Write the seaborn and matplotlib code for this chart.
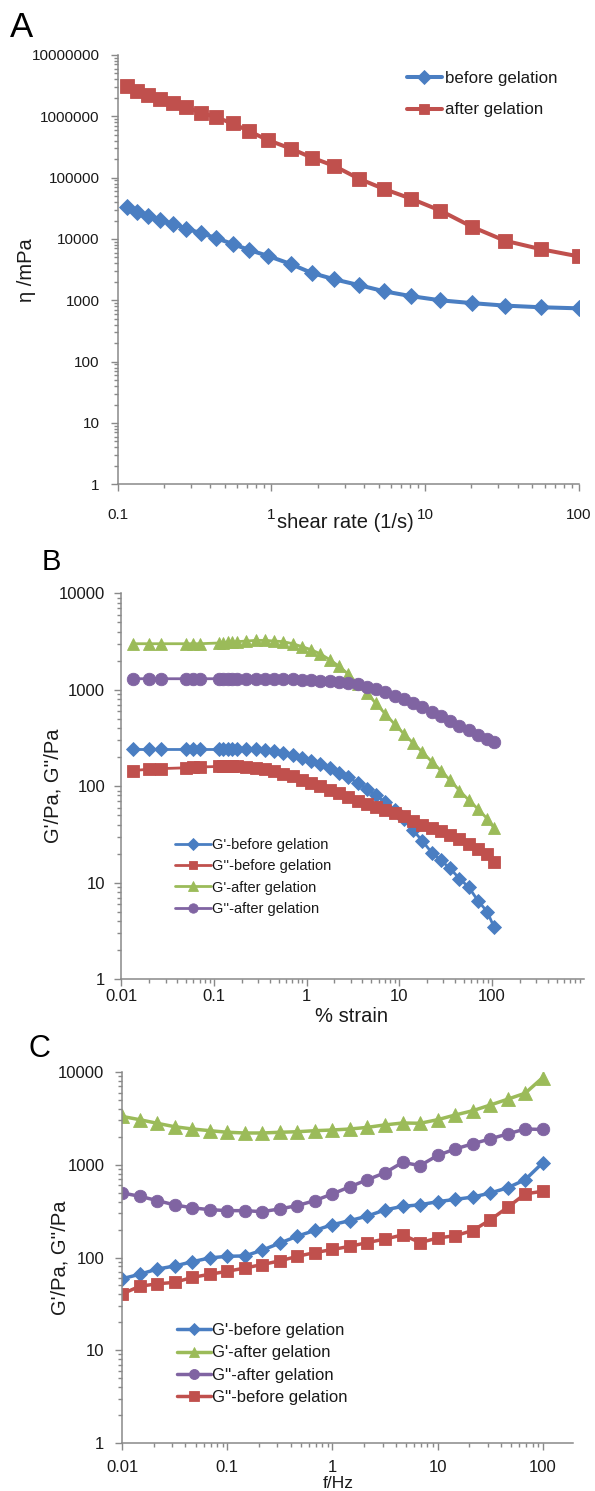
import matplotlib
matplotlib.use("Agg")
import matplotlib.pyplot as plt
import seaborn as sns
from matplotlib.ticker import FixedLocator, FixedFormatter, LogLocator, NullFormatter

# ---------------- Panel A data ----------------
shear_rate = [0.115, 0.134, 0.158, 0.19, 0.23, 0.28, 0.35, 0.44, 0.56, 0.72, 0.95,
              1.34, 1.83, 2.57, 3.72, 5.44, 8.1, 12.6, 20.2, 33.0, 57.0, 100.0]
eta_before = [33700, 28000, 23800, 20400, 17600, 14700, 12400, 10300, 8300, 6600, 5300,
              3900, 2800, 2200, 1770, 1400, 1170, 1000, 900, 820, 770, 740]
eta_after = [3110000, 2610000, 2220000, 1890000, 1620000, 1400000, 1140000, 960000, 765000,
             570000, 410000, 298000, 213000, 155000, 96000, 65000, 45500, 29000, 15800,
             9400, 6800, 5200]

# ---------------- Panel B data ----------------
strain = [0.0133, 0.02, 0.0267, 0.05, 0.06, 0.07, 0.112, 0.126, 0.141, 0.158, 0.178,
          0.224, 0.282, 0.355, 0.447, 0.562, 0.708, 0.891, 1.12, 1.41, 1.78, 2.24, 2.82,
          3.55, 4.47, 5.62, 7.08, 8.91, 11.2, 14.1, 17.8, 22.4, 28.2, 35.5, 44.7, 56.2,
          70.8, 89.1, 105]
gp_before_B = [240, 240, 240, 240, 240, 240, 240, 240, 242, 242, 242, 241, 240, 237, 231,
               222, 210, 198, 183, 168, 153, 138, 124, 108, 94, 80, 68, 57, 46, 35, 27,
               20.5, 17, 14, 11, 9.0, 6.5, 5.0, 3.5]
gpp_before_B = [145, 150, 152, 155, 157, 158, 160, 160, 160, 160, 160, 158, 155, 150, 143,
                135, 126, 117, 108, 100, 92, 84, 77, 70, 65, 61, 57, 53, 49, 44, 40, 37,
                34, 31, 28, 25, 22.5, 20, 16.5]
gp_after_B = [3000, 3000, 3000, 3000, 3000, 3000, 3050, 3050, 3100, 3100, 3150, 3200, 3250,
              3250, 3200, 3150, 3000, 2800, 2600, 2350, 2050, 1750, 1450, 1150, 920, 720,
              560, 440, 350, 280, 225, 180, 145, 115, 90, 72, 58, 46, 37]
gpp_after_B = [1300, 1300, 1300, 1300, 1300, 1300, 1300, 1300, 1300, 1300, 1300, 1300, 1300,
               1300, 1295, 1290, 1280, 1270, 1255, 1240, 1225, 1205, 1180, 1140, 1080, 1010,
               940, 870, 800, 730, 660, 590, 530, 475, 425, 380, 342, 310, 285]

# ---------------- Panel C data ----------------
freq = [0.01, 0.0147, 0.0215, 0.0316, 0.0464, 0.0681, 0.1, 0.147, 0.215, 0.316, 0.464,
        0.681, 1.0, 1.47, 2.15, 3.16, 4.64, 6.81, 10.0, 14.7, 21.5, 31.6, 46.4, 68.1, 100.0]
gp_before_C = [59, 66, 75, 81, 90, 99, 103, 104, 120, 143, 170, 196, 226, 250, 280, 326,
               356, 370, 400, 423, 448, 495, 565, 690, 1050]
gp_after_C = [3320, 3060, 2800, 2570, 2430, 2330, 2240, 2200, 2200, 2240, 2270, 2330, 2370,
              2430, 2530, 2690, 2820, 2800, 3060, 3440, 3820, 4400, 5090, 5910, 8700]
gpp_after_C = [497, 457, 411, 369, 343, 328, 320, 320, 312, 334, 363, 411, 485, 580, 690,
               820, 1060, 980, 1260, 1480, 1680, 1900, 2150, 2430, 2400]
gpp_before_C = [40.5, 49, 52, 54, 61, 66, 71, 77, 84, 92, 103, 113, 122, 132, 145, 158,
                175, 145, 162, 172, 195, 254, 348, 485, 518]

# ---------------- tick labels ----------------
a_xticks = [0.1, 1, 10, 100]
a_xlabels = ["0.1", "1", "10", "100"]
a_yticks = [1, 10, 100, 1000, 10000, 100000, 1000000, 10000000]
a_ylabels = ["1", "10", "100", "1000", "10000", "100000", "1000000", "10000000"]
bc_xticks = [0.01, 0.1, 1, 10, 100]
bc_xlabels = ["0.01", "0.1", "1", "10", "100"]
bc_yticks = [1, 10, 100, 1000, 10000]
bc_ylabels = ["1", "10", "100", "1000", "10000"]

BLUE, RED, GREEN, PURPLE = "#4A7EC2", "#C0504D", "#9BBB59", "#8064A2"
AXC = "#898989"
TXT = "#1a1a1a"

sns.set_style("white")
plt.rcParams["font.family"] = ["Liberation Sans", "DejaVu Sans"]

W, H = 595, 1491
fig = plt.figure(figsize=(W / 100, H / 100), dpi=100)


def add_axes(l, r, t, b):
    return fig.add_axes([l / W, 1 - b / H, (r - l) / W, (b - t) / H])


axA = add_axes(117.6, 578.7, 55, 484.3)
axB = add_axes(121.4, 584.4, 593.3, 979)
C_TOP, C_BOT = 1072, 1443
axC = add_axes(122.2, 573, C_TOP, C_BOT)


def series(ax, x, y, color, marker, ms, lw, label):
    sns.lineplot(x=x, y=y, ax=ax, color=color, marker=marker, markersize=ms,
                 markeredgecolor=color, markeredgewidth=0.6, linewidth=lw,
                 sort=False, estimator=None, label=label, legend=False)


def style_axis(ax, xlim, ylim, xt, xl, yt, yl, fs, xpad, ypad):
    ax.set_xscale("log")
    ax.set_yscale("log")
    ax.set_xlim(*xlim)
    ax.set_ylim(*ylim)
    ax.xaxis.set_major_locator(FixedLocator(xt))
    ax.xaxis.set_major_formatter(FixedFormatter(xl))
    ax.yaxis.set_major_locator(FixedLocator(yt))
    ax.yaxis.set_major_formatter(FixedFormatter(yl))
    for a in (ax.xaxis, ax.yaxis):
        a.set_minor_locator(LogLocator(base=10, subs=range(2, 10), numticks=60))
        a.set_minor_formatter(NullFormatter())
    sns.despine(ax=ax)
    for s in ("left", "bottom"):
        ax.spines[s].set_color(AXC)
        ax.spines[s].set_linewidth(1.1)
    ax.tick_params(which="both", direction="out", color=AXC, width=1,
                   bottom=True, left=True, labelcolor=TXT, labelsize=fs)
    ax.tick_params(which="major", length=5)
    ax.tick_params(which="minor", length=3)
    ax.tick_params(axis="x", which="major", pad=xpad)
    ax.tick_params(axis="y", which="major", pad=ypad)


for ax in (axA, axB, axC):
    ax.set_xscale("log")
    ax.set_yscale("log")

# ---------------- Panel A ----------------
series(axA, shear_rate, eta_before, BLUE, "D", 8.5, 2.9, "before gelation")
series(axA, shear_rate, eta_after, RED, "s", 9.5, 2.9, "after gelation")
style_axis(axA, (0.1, 100), (1, 1e7), a_xticks, a_xlabels, a_yticks, a_ylabels, 11, 12, 7.8)
axA.set_xlabel("shear rate (1/s)", fontsize=14.5, color=TXT)
axA.set_ylabel("η /mPa", fontsize=14.5, color=TXT)
axA.xaxis.set_label_coords(0.495, -0.067)
axA.yaxis.set_label_coords(-0.177, 0.5)
axA.legend(loc="upper left", bbox_to_anchor=(406.7 / W, 1 - 70.7 / H),
           bbox_transform=fig.transFigure, frameon=False, fontsize=12.2,
           handlelength=2.07, handletextpad=0.2, labelspacing=0.99,
           borderpad=0, borderaxespad=0, markerscale=0.8, labelcolor=TXT)

# ---------------- Panel B ----------------
series(axB, strain, gp_before_B, BLUE, "D", 7.5, 2.0, "G'-before gelation")
series(axB, strain, gpp_before_B, RED, "s", 8.5, 2.0, "G''-before gelation")
series(axB, strain, gp_after_B, GREEN, "^", 9.0, 2.0, "G'-after gelation")
series(axB, strain, gpp_after_B, PURPLE, "o", 9.0, 2.0, "G''-after gelation")
style_axis(axB, (0.01, 1000), (1, 1e4), bc_xticks, bc_xlabels, bc_yticks, bc_ylabels, 12, 2.4, 6.8)
axB.set_xlabel("% strain", fontsize=14.5, color=TXT)
axB.set_ylabel("G'/Pa, G''/Pa", fontsize=14.5, color=TXT)
axB.xaxis.set_label_coords(0.498, -0.072)
axB.yaxis.set_label_coords(-0.127, 0.5)
axB.legend(loc="upper left", bbox_to_anchor=(175.3 / W, 1 - 838.3 / H),
           bbox_transform=fig.transFigure, frameon=False, fontsize=10.5,
           handlelength=2.42, handletextpad=0.13, labelspacing=0.49,
           borderpad=0, borderaxespad=0, markerscale=0.75, labelcolor=TXT)

# ---------------- Panel C ----------------
series(axC, freq, gp_before_C, BLUE, "D", 7.5, 2.5, "G'-before gelation")
series(axC, freq, gp_after_C, GREEN, "^", 9.5, 2.5, "G'-after gelation")
series(axC, freq, gpp_after_C, PURPLE, "o", 9.0, 2.5, "G''-after gelation")
series(axC, freq, gpp_before_C, RED, "s", 8.7, 2.5, "G''-before gelation")
style_axis(axC, (0.01, 194), (1, 1e4), bc_xticks, bc_xlabels, bc_yticks, bc_ylabels, 12, 7.5, 7.8)
axC.set_xlabel("f/Hz", fontsize=12.5, color=TXT)
axC.set_ylabel("G'/Pa, G''/Pa", fontsize=14.5, color=TXT)
c_h = C_BOT - C_TOP
axC.xaxis.set_label_coords(0.479, (C_BOT - 1475.5) / c_h)
axC.yaxis.set_label_coords(-0.116, 0.5)
axC.legend(loc="upper left", bbox_to_anchor=(176.5 / W, 1 - 1323 / H),
           bbox_transform=fig.transFigure, frameon=False, fontsize=12,
           handlelength=2.04, handletextpad=0.11, labelspacing=0.44,
           borderpad=0, borderaxespad=0, markerscale=0.8, labelcolor=TXT)

# ---------------- panel letters ----------------
fig.text(22 / W, 1 - 27.5 / H, "A", fontsize=25, color="black", ha="center", va="center")
fig.text(51 / W, 1 - 562 / H, "B", fontsize=21, color="black", ha="center", va="center")
fig.text(39 / W, 1 - 1049 / H, "C", fontsize=22, color="black", ha="center", va="center")

fig.savefig("out.png", dpi=100)
